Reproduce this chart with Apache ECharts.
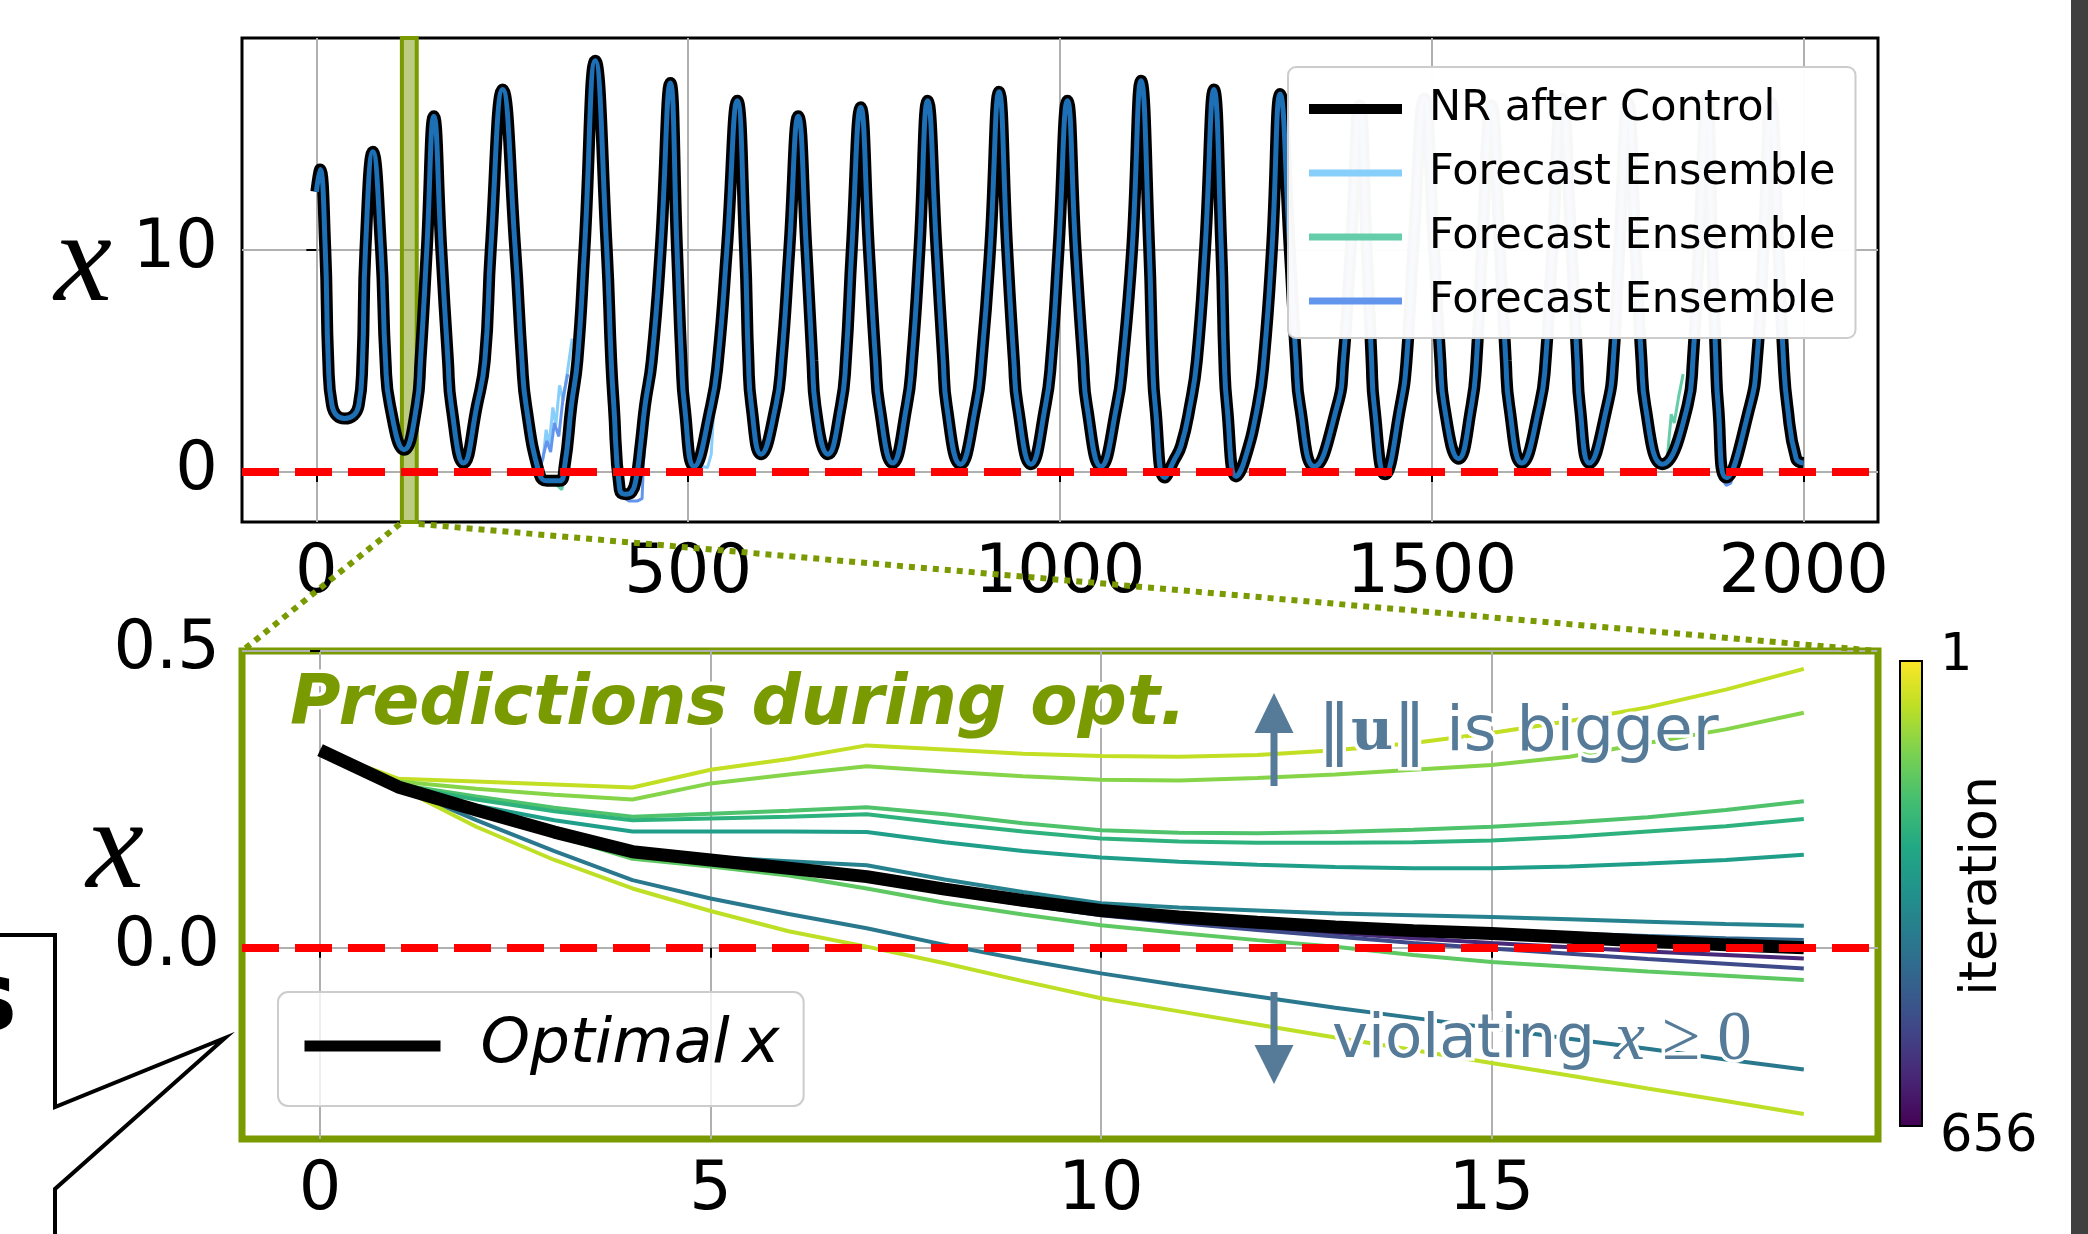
<!DOCTYPE html>
<html>
<head>
<meta charset="utf-8">
<script src="https://cdn.jsdelivr.net/npm/echarts@6/dist/echarts.min.js"></script>
<style>
  html, body { margin: 0; padding: 0; background: #fff; }
  #chart { width: 2088px; height: 1234px; }
</style>
</head>
<body>
<div id="chart"></div>
<script>
// ---- tick labels ----
const topXTicks = [0, 500, 1000, 1500, 2000];
const topYTicks = [0, 10];
const stepTicks = [0, 5, 10, 15];
const optYTicks = [0.0, 0.5];

// ---- top panel: NR after control (time, x) ----
const nrAfterControl = [
  [0,12.6],[5,13.6],
  [12,10],[16,5],[21,3],[38,2.4],[57,3],[62,5],[66,10],[76,14.4],
  [87,10],[93,5],[99,3],[118,1.0],[135,3],[140,5],[148.5,10],[158,16.0],
  [168,10],[177,5],[181.5,3],[198,0.4],[216,3],[226.5,5],[234.5,10],[250.5,17.2],
  [267.5,10],[276.5,5],[282,3],[300,-0.1],[310,-0.4],[327,-0.4],[334,0.3],[343,3],[351,5],[360.5,10],[375,18.5],
  [390.5,10],[396.5,5],[400,3],[408,-0.8],[416,-1.0],[424,-0.9],[430,-0.3],[436,1.2],[442,3],[451,5],[463,10],[476,17.5],
  [485,10],[491,5],[495,3],[508,0.25],[531,3],[540,5],[552,10],[566,16.7],
  [576.5,10],[581,5],[585,3],[598,0.8],[618,3],[625.5,5],[636,10],[648,16.0],
  [659,10],[667,5],[671,3],[688,0.8],[705.5,3],[712,5],[720,10],[732,16.4],
  [743,10],[752,5],[757,3],[775,0.4],[794,3],[801,5],[811,10],[822,16.7],
  [834,10],[843,5],[847.5,3],[866,0.35],[887,3],[894.5,5],[906,10],[918,17.1],
  [929,10],[938,5],[943,3],[961,0.35],[980.5,3],[988,5],[998,10],[1010,16.7],
  [1021,10],[1031,5],[1036,3],[1055,0.25],[1076.5,3],[1084.5,5],[1097,10],[1109,17.6],
  [1120,10],[1124.5,5],[1128,3],[1141,-0.25],[1153,0.5],[1163,1.2],[1175,3],[1184,5],[1195,10],[1207,17.2],
  [1217,10],[1221,5],[1224.5,3],[1237,-0.2],[1248,0.5],[1266,3],[1274,5],[1285,10],[1296,17.0],
  [1309,10],[1317.5,5],[1322.5,3],[1342,0.25],[1373,3],[1381,5],[1391,10],[1403,16.5],
  [1412.5,10],[1419,5],[1422.5,3],[1437,-0.1],[1458,3],[1466,5],[1475,10],[1490,16.8],
  [1503,10],[1511.5,5],[1516.5,3],[1536,0.6],[1553.5,3],[1560,5],[1567.5,10],[1580,16.5],
  [1591.5,10],[1599.5,5],[1604,3],[1621,0.4],[1645,3],[1653,5],[1662,10],[1675,16.8],
  [1688,10],[1695.5,5],[1699,3],[1712,0.4],[1736,3],[1744,5],[1752,10],[1764,16.6],
  [1774,10],[1782,5],[1787,3],[1810,0.35],[1844,3],[1851,5],[1859,10],[1870,16.8],
  [1877,10],[1882,5],[1885,3],[1896,-0.25],[1928,3],[1937,5],[1946,10],[1956,16.6],
  [1966,10],[1973,5],[1978,3],[1990,0.6],[2000,0.4]
];

// forecast ensemble members, only where they leave the NR curve (null breaks the line)
const ensembleSky = [
  [298,0.1],[305,0.6],[309,1.9],[313,1.2],[318,2.9],[322,2.1],[327,3.9],[332,3.2],[338,4.6],[344,6.0],[346,null],
  [508,0.3],[526,0.2],[531,0.8],[535,3.2],[540,6.0],[542,null],
  [775,0.3],[783,0.4],[788,3.0],[790,null],
  [866,0.3],[876,0.3],[881,2.6]
];
const ensembleAqua = [
  [316,-0.3],[324,-0.6],[330,-0.8],[334,-0.2],[338,1.5],[344,3.6],[346,null],
  [420,-0.8],[428,-0.6],[432,1.0],[436,2.6],[442,4.0],[444,null],
  [1446,0.3],[1452,1.6],[1456,1.3],[1462,3.0],[1464,null],
  [1816,0.4],[1822,2.6],[1826,2.2],[1832,3.4],[1838,4.4]
];
const ensembleCorn = [
  [302,0.3],[310,1.4],[315,0.9],[320,2.2],[326,1.6],[332,3.4],[338,4.4],[340,null],
  [412,-1.1],[420,-1.3],[432,-1.3],[438,-1.2],[440,0.5],[444,2.4],[450,4.6],[452,null],
  [1890,-0.3],[1896,-0.6],[1902,-0.5],[1908,0.2]
];

// zoom window shown in the lower panel
const windowStart = 115;
const windowEnd = 135;

// ---- lower panel: predictions during optimisation ----
const horizonSteps = [0,1,2,3,4,5,6,7,8,9,10,11,12,13,14,15,16,17,18,19];
const optimalX = [0.333,0.271,0.232,0.195,0.162,0.148,0.134,0.120,0.099,0.080,0.063,0.052,0.043,0.035,0.029,0.024,0.018,0.011,0.005,0.000];
const predA = [0.333,0.285,0.280,0.275,0.270,0.300,0.318,0.341,0.334,0.327,0.323,0.322,0.325,0.333,0.345,0.362,0.382,0.405,0.435,0.470];
const predB = [0.333,0.280,0.268,0.258,0.250,0.277,0.292,0.306,0.297,0.289,0.283,0.282,0.286,0.292,0.300,0.308,0.322,0.345,0.368,0.396];
const predC = [0.333,0.275,0.255,0.236,0.221,0.226,0.231,0.237,0.225,0.210,0.198,0.194,0.193,0.195,0.199,0.204,0.211,0.220,0.232,0.247];
const predD = [0.333,0.273,0.250,0.230,0.215,0.218,0.221,0.225,0.210,0.196,0.184,0.179,0.177,0.177,0.178,0.181,0.187,0.196,0.205,0.217];
const predE = [0.333,0.271,0.240,0.215,0.196,0.196,0.196,0.195,0.178,0.163,0.152,0.145,0.140,0.136,0.134,0.134,0.137,0.142,0.148,0.157];
const predF = [0.333,0.271,0.233,0.198,0.166,0.153,0.146,0.139,0.115,0.094,0.075,0.068,0.063,0.058,0.055,0.052,0.048,0.044,0.040,0.037];
const predG = [0.333,0.271,0.232,0.195,0.162,0.148,0.134,0.121,0.100,0.081,0.064,0.054,0.045,0.038,0.032,0.028,0.024,0.020,0.016,0.013];
const predH = [0.333,0.271,0.231,0.194,0.160,0.145,0.131,0.117,0.096,0.076,0.058,0.046,0.035,0.025,0.016,0.008,0.001,-0.006,-0.012,-0.018];
const predI = [0.333,0.271,0.231,0.193,0.159,0.143,0.128,0.114,0.093,0.073,0.055,0.042,0.030,0.019,0.008,-0.001,-0.010,-0.019,-0.027,-0.035];
const predJ = [0.333,0.271,0.230,0.190,0.150,0.137,0.122,0.100,0.076,0.056,0.038,0.025,0.013,0.002,-0.012,-0.024,-0.032,-0.040,-0.047,-0.054];
const predK = [0.333,0.271,0.215,0.163,0.114,0.083,0.057,0.033,0.005,-0.020,-0.043,-0.063,-0.082,-0.101,-0.118,-0.135,-0.153,-0.170,-0.188,-0.205];
const predL = [0.333,0.271,0.204,0.148,0.100,0.062,0.028,0.002,-0.026,-0.056,-0.085,-0.107,-0.129,-0.151,-0.172,-0.194,-0.215,-0.237,-0.258,-0.280];
const predLines = [predA, predB, predC, predD, predE, predF, predG, predH, predI, predJ, predK, predL];
const predColors = ['#c2df23','#86d549','#4ec36b','#2db27d','#1f9e89','#26828e','#31688e','#482878','#3e4a89','#5ec962','#2a788e','#bddf26'];

const iterFirst = 1;
const iterLast = 656;

// ---- styles ----
const FONT = 'DejaVu Sans';
const OLIVE = '#7a9a01';
const GRIDC = '#b0b0b0';
const NOTE = '#567b99';
const TICK_FS = 67;
const legendNames = { nr: 'NR after Control', ens1: 'Forecast Ensemble', ens2: 'Forecast Ensemble', ens3: 'Forecast Ensemble' };

const topRange = { xMin: -100, xMax: 2100, yMin: -2.25, yMax: 19.52 };
const botRange = { xMin: -1, xMax: 19.95, yMin: -0.322, yMax: 0.5 };

const chart = echarts.init(document.getElementById('chart'));

function axisCommon(ticks, fmt, margin) {
  return {
    axisLine: { show: false },
    axisTick: { show: true, customValues: ticks, length: 10, lineStyle: { color: '#000', width: 2 } },
    axisLabel: { customValues: ticks, formatter: fmt, fontFamily: FONT, fontSize: TICK_FS, color: '#000', margin: margin },
    splitLine: { show: true, lineStyle: { color: GRIDC, width: 2 } }
  };
}

const predSeries = predLines.map((vals, i) => ({
  name: 'pred' + i,
  type: 'line',
  xAxisIndex: 1, yAxisIndex: 1,
  data: horizonSteps.map((h, j) => [h, vals[j]]),
  symbol: 'none',
  lineStyle: { color: predColors[i], width: 4 },
  z: 2
}));

const option = {
  animation: false,
  backgroundColor: '#fff',
  textStyle: { fontFamily: FONT },
  grid: [
    { left: 242, top: 38, width: 1636, height: 484, show: true, borderColor: '#000', borderWidth: 3, backgroundColor: 'transparent' },
    { left: 242, top: 651, width: 1636, height: 488, show: true, borderColor: OLIVE, borderWidth: 7, backgroundColor: 'transparent' }
  ],
  xAxis: [
    Object.assign({ type: 'value', gridIndex: 0, min: topRange.xMin, max: topRange.xMax }, axisCommon(topXTicks, v => String(v), 19)),
    Object.assign({ type: 'value', gridIndex: 1, min: botRange.xMin, max: botRange.xMax }, axisCommon(stepTicks, v => String(v), 19))
  ],
  yAxis: [
    Object.assign({ type: 'value', gridIndex: 0, min: topRange.yMin, max: topRange.yMax }, axisCommon(topYTicks, v => String(v), 24)),
    Object.assign({ type: 'value', gridIndex: 1, min: botRange.yMin, max: botRange.yMax }, axisCommon(optYTicks, v => v.toFixed(1), 22))
  ],
  legend: [
    {
      z: 20, left: 1288, top: 67, orient: 'vertical', selectedMode: false,
      data: [
        { name: 'nr', lineStyle: { width: 10 } },
        { name: 'ens1', lineStyle: { width: 7 } },
        { name: 'ens2', lineStyle: { width: 7 } },
        { name: 'ens3', lineStyle: { width: 7 } }
      ],
      formatter: n => legendNames[n],
      itemWidth: 93, itemHeight: 44, itemGap: 20,
      itemStyle: { opacity: 0, borderWidth: 0 },
      padding: [20, 20, 15, 16],
      backgroundColor: 'rgba(255,255,255,0.97)', borderColor: '#cccccc', borderWidth: 2, borderRadius: 8,
      textStyle: { fontFamily: FONT, fontSize: 43, lineHeight: 44, color: '#000', padding: [0, 0, 0, 22] }
    },
    {
      z: 20, left: 278, top: 992, orient: 'vertical', selectedMode: false,
      data: [{ name: 'optimal', lineStyle: { width: 11 } }],
      formatter: () => 'Optimal\u2009x',
      itemWidth: 136, itemHeight: 64,
      itemStyle: { opacity: 0, borderWidth: 0 },
      padding: [22, 24, 28, 21],
      backgroundColor: 'rgba(255,255,255,0.8)', borderColor: '#cccccc', borderWidth: 2, borderRadius: 10,
      textStyle: { fontFamily: FONT, fontSize: 63, lineHeight: 64, fontStyle: 'italic', color: '#000', padding: [0, 0, 0, 35] }
    }
  ],
  series: [
    { name: 'ens1', type: 'line', data: ensembleSky, symbol: 'none', lineStyle: { color: '#87cefa', width: 3 }, z: 2 },
    { name: 'ens2', type: 'line', data: ensembleAqua, symbol: 'none', lineStyle: { color: '#66cdaa', width: 3 }, z: 2 },
    { name: 'ens3', type: 'line', data: ensembleCorn, symbol: 'none', lineStyle: { color: '#6495ed', width: 3 }, z: 2 },
    { name: 'nr', type: 'line', data: nrAfterControl, symbol: 'none', smooth: 0.5, lineStyle: { color: '#000', width: 12 }, z: 3 },
    { name: 'ensMean', type: 'line', data: nrAfterControl, symbol: 'none', smooth: 0.5, lineStyle: { color: '#1d6fb6', width: 5 }, z: 4 },
    {
      name: 'zeroTop', type: 'line', data: [], z: 5,
      markLine: { silent: true, symbol: ['none', 'none'], label: { show: false },
        lineStyle: { color: '#ff0000', width: 8, type: [37, 16] }, data: [{ yAxis: 0 }] }
    },
    {
      name: 'window', type: 'line', data: [], z: 6,
      markArea: { silent: true, itemStyle: { color: 'rgba(122,154,1,0.5)', borderColor: OLIVE, borderWidth: 4 },
        data: [[{ xAxis: windowStart }, { xAxis: windowEnd }]] }
    },
    ...predSeries,
    { name: 'optimal', type: 'line', xAxisIndex: 1, yAxisIndex: 1, data: horizonSteps.map((h, j) => [h, optimalX[j]]),
      symbol: 'none', lineStyle: { color: '#000', width: 13 }, z: 3 },
    {
      name: 'zeroBot', type: 'line', xAxisIndex: 1, yAxisIndex: 1, data: [], z: 5,
      markLine: { silent: true, symbol: ['none', 'none'], label: { show: false },
        lineStyle: { color: '#ff0000', width: 8, type: [37, 16] }, data: [{ yAxis: 0 }] }
    }
  ]
};

chart.setOption(option);

// connectors from the shaded window to the lower panel
const px = (i, pt) => chart.convertToPixel({ xAxisIndex: i, yAxisIndex: i }, pt);
const wl = px(0, [windowStart, topRange.yMin]);
const wr = px(0, [windowEnd, topRange.yMin]);
const bl = px(1, [botRange.xMin, botRange.yMax]);
const br = px(1, [botRange.xMax, botRange.yMax]);

const viridis = ['#fde725','#bddf26','#7ad151','#44bf70','#22a884','#21918c','#2a788e','#355f8d','#414487','#482475','#440154'];
const cbStops = viridis.map((c, i) => ({ offset: i / (viridis.length - 1), color: c }));

const halo = { stroke: '#fff', lineWidth: 7 };

chart.setOption({
  graphic: { elements: [
    { type: 'line', z: 20, shape: { x1: wl[0] - 2, y1: wl[1] + 2, x2: bl[0], y2: bl[1] },
      style: { stroke: OLIVE, lineWidth: 6, lineDash: [6, 6] } },
    { type: 'line', z: 20, shape: { x1: wr[0] + 2, y1: wr[1] + 2, x2: br[0], y2: br[1] },
      style: { stroke: OLIVE, lineWidth: 6, lineDash: [6, 6] } },
    // part of the neighbouring panel
    { type: 'polyline', z: 20, shape: { points: [[0, 935], [55, 935], [55, 1107], [225, 1038], [55, 1189], [55, 1240]] },
      style: { stroke: '#000', lineWidth: 4, fill: null } },
    { type: 'text', z: 20, x: -40, y: 1005, style: { text: 's', font: 'bold 96px "DejaVu Sans"', fill: '#000', verticalAlign: 'middle' } },
    { type: 'rect', z: 20, shape: { x: 2071, y: 0, width: 17, height: 1234 }, style: { fill: '#404040' } },
    // axis names
    { type: 'text', z: 20, x: 83, y: 266, style: { text: 'x', font: 'italic 130px "Liberation Serif"', fill: '#000', align: 'center', verticalAlign: 'middle' } },
    { type: 'text', z: 20, x: 115, y: 853, style: { text: 'x', font: 'italic 130px "Liberation Serif"', fill: '#000', align: 'center', verticalAlign: 'middle' } },
    // colour bar
    { type: 'rect', z: 20, shape: { x: 1900, y: 661, width: 22, height: 465 },
      style: { fill: new echarts.graphic.LinearGradient(0, 0, 0, 1, cbStops), stroke: '#000', lineWidth: 2 } },
    { type: 'text', z: 20, x: 1940, y: 657, style: { text: String(iterFirst), font: '51px "DejaVu Sans"', fill: '#000', verticalAlign: 'middle' } },
    { type: 'text', z: 20, x: 1940, y: 1138, style: { text: String(iterLast), font: '51px "DejaVu Sans"', fill: '#000', verticalAlign: 'middle' } },
    { type: 'text', z: 20, x: 1982, y: 886, rotation: Math.PI / 2,
      style: { text: 'iteration', font: '52px "DejaVu Sans"', fill: '#000', align: 'center', verticalAlign: 'middle' } },
    // annotations
    { type: 'text', z: 30, x: 290, y: 706,
      style: Object.assign({ text: 'Predictions during opt.', font: 'italic bold 69px "DejaVu Sans"', fill: OLIVE, verticalAlign: 'middle' }, halo) },
    { type: 'rect', z: 30, shape: { x: 1270.5, y: 728, width: 7, height: 58 }, style: { fill: NOTE } },
    { type: 'polygon', z: 30, shape: { points: [[1274, 693], [1254.5, 733], [1293.5, 733]] }, style: { fill: NOTE } },
    { type: 'rect', z: 30, shape: { x: 1270.5, y: 992, width: 7, height: 58 }, style: { fill: NOTE } },
    { type: 'polygon', z: 30, shape: { points: [[1274, 1084], [1254.5, 1045], [1293.5, 1045]] }, style: { fill: NOTE } },
    { type: 'text', z: 30, x: 1318, y: 734,
      style: {
        text: '{n|\u2016}{u|u}{n|\u2016}{s| is bigger}', verticalAlign: 'middle',
        rich: {
          n: Object.assign({ fontFamily: 'DejaVu Sans', fontSize: 66, fill: NOTE }, halo),
          u: Object.assign({ fontFamily: 'DejaVu Serif', fontWeight: 'bold', fontSize: 58, fill: NOTE }, halo),
          s: Object.assign({ fontFamily: FONT, fontSize: 63, fill: NOTE }, halo)
        }
      } },
    { type: 'text', z: 30, x: 1332, y: 1041,
      style: {
        text: '{s|violating }{x|x}{r| \u2265 0}', verticalAlign: 'middle',
        rich: {
          s: Object.assign({ fontFamily: FONT, fontSize: 61, fill: NOTE }, halo),
          x: Object.assign({ fontFamily: 'Liberation Serif', fontStyle: 'italic', fontSize: 69, fill: NOTE }, halo),
          r: Object.assign({ fontFamily: 'Liberation Serif', fontSize: 69, fill: NOTE }, halo)
        }
      } }
  ] }
});
</script>
</body>
</html>
